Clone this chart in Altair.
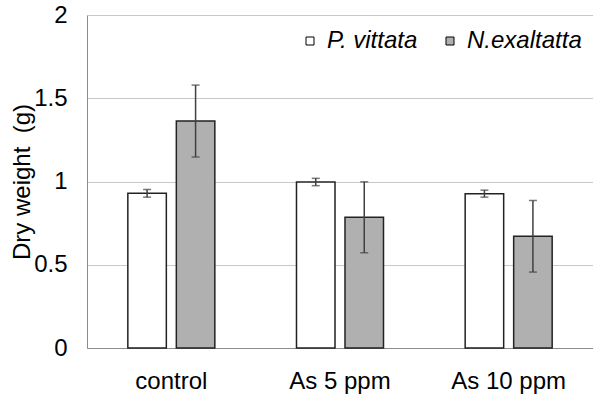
import altair as alt
import pandas as pd

groups = ["control", "As 5 ppm", "As 10 ppm"]
species = ["P. vittata", "N.exaltatta"]
pv_mean = [0.929, 0.997, 0.927]
pv_err = [0.023, 0.022, 0.021]
ne_mean = [1.363, 0.785, 0.671]
ne_err = [0.216, 0.213, 0.215]

rows = []
for g, m, e in zip(groups, pv_mean, pv_err):
    rows.append({"group": g, "species": species[0], "mean": m, "lo": m - e, "hi": m + e})
for g, m, e in zip(groups, ne_mean, ne_err):
    rows.append({"group": g, "species": species[1], "mean": m, "lo": m - e, "hi": m + e})
df = pd.DataFrame(rows)

FONT = "Liberation Sans"
FS = 24

x = alt.X("group:N", sort=groups, title=None,
          scale=alt.Scale(paddingInner=0, paddingOuter=0),
          axis=alt.Axis(labelAngle=0, ticks=False, labelFontSize=FS, labelFont=FONT,
                        labelColor="black", labelPadding=21, domainColor="#8c8c8c",
                        domainWidth=1, grid=False))
xo = alt.XOffset("species:N", sort=species,
                 scale=alt.Scale(paddingInner=0.206, paddingOuter=0.842))

base = alt.Chart(df)

bars = base.mark_bar(stroke="#222222", strokeWidth=1.5).encode(
    x=x,
    xOffset=xo,
    y=alt.Y("mean:Q", scale=alt.Scale(domain=[0, 2]), title="Dry weight\u00a0 (g)",
            axis=alt.Axis(values=[0, 0.5, 1, 1.5, 2], format="~g", ticks=False,
                          labelFontSize=FS, labelFont=FONT, labelColor="black",
                          labelPadding=20, domainColor="#8c8c8c", gridColor="#c8c8c8",
                          gridWidth=1, titleFontSize=FS, titleFont=FONT,
                          titleFontWeight="normal", titleColor="black",
                          titleX=-58, titleY=166.5, titleBaseline="alphabetic")),
    color=alt.Color("species:N", sort=species,
                    scale=alt.Scale(domain=species, range=["white", "#b0b0b0"]),
                    legend=alt.Legend(title=None, orient="none", legendX=211, legendY=14,
                                      direction="horizontal", symbolType="square",
                                      symbolSize=64, symbolStrokeColor="black",
                                      symbolStrokeWidth=1, labelFontSize=FS,
                                      labelFont=FONT, labelFontStyle="italic",
                                      labelColor="black", labelOffset=5,
                                      columnPadding=20, padding=0)),
)

rules = base.mark_rule(color="#404040", strokeWidth=1.5).encode(
    x=x, xOffset=xo, y="lo:Q", y2="hi:Q")
caps_hi = base.mark_tick(color="#404040", size=8, thickness=1.5).encode(
    x=x, xOffset=xo, y="hi:Q")
caps_lo = base.mark_tick(color="#404040", size=8, thickness=1.5).encode(
    x=x, xOffset=xo, y="lo:Q")

chart = alt.layer(bars, rules, caps_hi, caps_lo).properties(
    width=506, height=333,
    autosize=alt.AutoSizeParams(type="none"),
    padding={"left": 87, "top": 15, "right": 0, "bottom": 46},
    background="white",
).configure_view(stroke=None)

chart.save("out.html", embed_options={"renderer": "svg", "actions": False})
